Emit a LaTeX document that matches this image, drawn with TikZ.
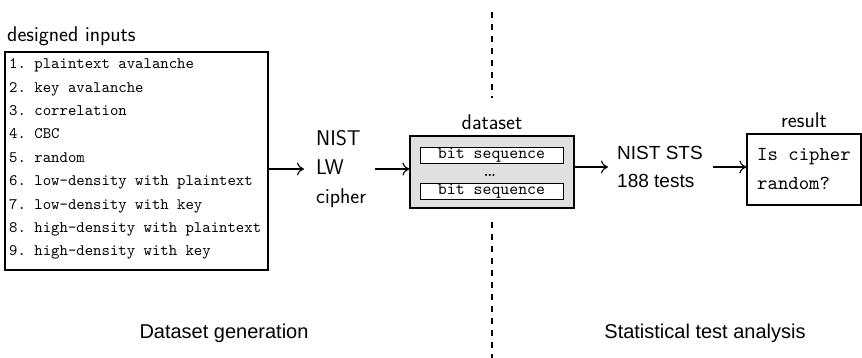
\documentclass[tikz,border=0pt]{standalone}
\usepackage{fontspec}
\setmonofont{lmmono10-regular}[Extension=.otf]
\newfontfamily\arialfont{Liberation Sans}
\usetikzlibrary{arrows.meta,positioning}

\begin{document}
\begin{tikzpicture}[x=1pt,y=-1pt,
    lbl/.style={font=\sffamily\fontsize{21.3}{25}\selectfont,inner sep=0pt},
    box/.style={draw,line width=1.2pt,inner sep=0pt},
    seqbox/.style={draw,fill=white,line width=1pt,minimum width=143pt,minimum height=16.5pt,inner sep=0pt,font=\ttfamily\fontsize{17}{18}\selectfont},
    arr/.style={-{To[length=7pt,width=13pt]},line width=1.1pt}]
  \useasboundingbox (0,0) rectangle (862,358);
  % divider between the two phases
  \draw[line width=1.1pt,dash pattern=on 6pt off 6pt] (492,12) -- (492,98) (492,222) -- (492,358);
  % designed inputs
  \node[box,minimum width=263pt,minimum height=218pt] (inputs) at (136.5,161) {};
  \node[lbl,anchor=base west] (inputslbl) at (7,42) {designed inputs};
  \node[anchor=north west,inner sep=0pt,align=left,font=\ttfamily\fontsize{16}{23.4}\selectfont] (items) at (9,58.5)
    {1. plaintext avalanche\\2. key avalanche\\3. correlation\\4. CBC\\5. random\\6. low-density with plaintext\\7. low-density with key\\8. high-density with plaintext\\9. high-density with key};
  \node[lbl,align=left,font=\sffamily\fontsize{21.3}{29}\selectfont,anchor=west] (cipher) at (316,169) {NIST\\LW\\cipher};
  % dataset
  \node[box,fill=black!12,minimum width=164pt,minimum height=72pt] (dataset) at (492,172) {};
  \node[lbl,above=6pt of dataset] (datasetlbl) {dataset};
  \node[seqbox] (seqA) at (491.5,155.5) {bit sequence};
  \node[seqbox] (seqB) at (491.5,191.5) {bit sequence};
  \node[anchor=base,inner sep=0pt,font=\bfseries\fontsize{15}{16}\selectfont] (dots) at (490,177) {\ldots};
  % statistical tests
  \node[lbl,font=\arialfont\fontsize{19}{28}\selectfont,align=left,anchor=west] (sts) at (617,167) {NIST STS\\188 tests};
  \node[box,minimum width=114pt,minimum height=71pt,align=left,font=\ttfamily\fontsize{19.8}{29}\selectfont] (result) at (804,169.5) {Is cipher\\random?};
  \node[lbl,above=6pt of result] (resultlbl) {result};
  \draw[arr,shorten >=12pt] (inputs.east |- cipher.west) -- (cipher.west);
  \draw[arr,shorten <=9pt] (cipher.east) -- (cipher.east -| dataset.west);
  \draw[arr,shorten >=9pt] (dataset.east |- sts.west) -- (sts.west);
  \draw[arr,shorten <=10pt] (sts.east) -- (sts.east -| result.west);
  % phase names
  \node[font=\arialfont\fontsize{20}{24}\selectfont] (genlbl) at (224,333) {Dataset generation};
  \node[font=\arialfont\fontsize{20}{24}\selectfont] (analysislbl) at (705,333) {Statistical test analysis};
\end{tikzpicture}
\end{document}
